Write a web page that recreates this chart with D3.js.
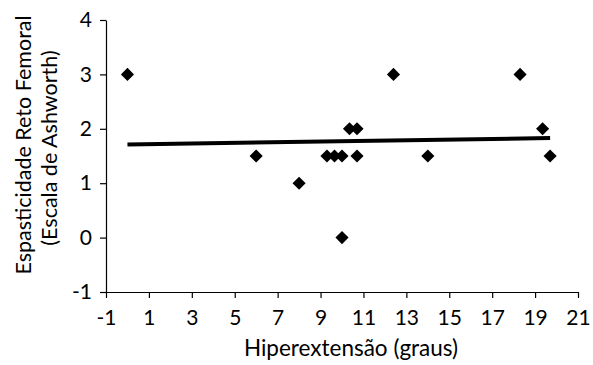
<!DOCTYPE html>
<html>
<head>
<meta charset="utf-8">
<script src="https://cdn.jsdelivr.net/npm/d3@7"></script>
<style>
  body { margin: 0; background: #fff; }
  text { font-family: Lato, "Open Sans", sans-serif; fill: #000; }
</style>
</head>
<body>
<div id="chart"></div>
<script>
// Values
const hiperX = [0, 6, 8, 9.3, 9.65, 10, 10, 10.35, 10.7, 10.7, 12.4, 14, 18.3, 19.35, 19.7];
const ashworthY = [3, 1.5, 1, 1.5, 1.5, 1.5, 0, 2, 2, 1.5, 3, 1.5, 3, 2, 1.5];
const trendX = [0, 19.7];
const trendY = [1.71, 1.83];
const xTicks = [-1, 1, 3, 5, 7, 9, 11, 13, 15, 17, 19, 21];
const yTicks = [-1, 0, 1, 2, 3, 4];

const width = 593;
const height = 365;
const margin = { top: 20, right: 15, bottom: 73, left: 106 };

const svg = d3.select("#chart")
    .append("svg")
    .attr("width", width)
    .attr("height", height);

const xScale = d3.scaleLinear().domain([-1, 21]).range([margin.left, 578]);
const yScale = d3.scaleLinear().domain([-1, 4]).range([height - margin.bottom, margin.top]);

const fmt = d => String(d);

// axes
const xAxis = svg.append("g")
    .attr("transform", `translate(0,${height - margin.bottom})`)
    .call(d3.axisBottom(xScale).tickValues(xTicks).tickFormat(fmt).tickSize(6).tickSizeOuter(0).tickPadding(12));

const yAxis = svg.append("g")
    .attr("transform", `translate(${margin.left},0)`)
    .call(d3.axisLeft(yScale).tickValues(yTicks).tickFormat(fmt).tickSize(6).tickSizeOuter(0).tickPadding(8));

[xAxis, yAxis].forEach(g => {
    g.select(".domain").attr("stroke", "#000").attr("stroke-width", 1.2);
    g.selectAll(".tick line").attr("stroke", "#000").attr("stroke-width", 1.2);
    g.selectAll(".tick text")
        .style("font-family", "Lato, 'Open Sans', sans-serif")
        .style("font-size", "21px")
        .attr("fill", "#000");
});

// trend line
const pts = trendX.map((x, i) => [x, trendY[i]]);
svg.append("path")
    .attr("d", d3.line().x(d => xScale(d[0])).y(d => yScale(d[1]))(pts))
    .attr("stroke", "#000")
    .attr("stroke-width", 4)
    .attr("fill", "none");

// points
const diamond = d3.symbol().type(d3.symbolDiamond2).size(110);
svg.selectAll("path.pt")
    .data(hiperX.map((x, i) => ({ x: x, y: ashworthY[i] })))
    .enter()
    .append("path")
    .attr("class", "pt")
    .attr("d", diamond)
    .attr("transform", d => `translate(${xScale(d.x)},${yScale(d.y)})`)
    .attr("fill", "#000");

// labels
svg.append("text")
    .attr("x", 351)
    .attr("y", 356)
    .attr("text-anchor", "middle")
    .style("font-size", "22.5px")
    .text("Hiperextensão (graus)");

svg.append("text")
    .attr("text-anchor", "middle")
    .attr("transform", "translate(31,145) rotate(-90)")
    .style("font-size", "21.5px")
    .text("Espasticidade Reto Femoral");

svg.append("text")
    .attr("text-anchor", "middle")
    .attr("transform", "translate(57,148) rotate(-90)")
    .style("font-size", "21.5px")
    .text("(Escala de Ashworth)");
</script>
</body>
</html>
